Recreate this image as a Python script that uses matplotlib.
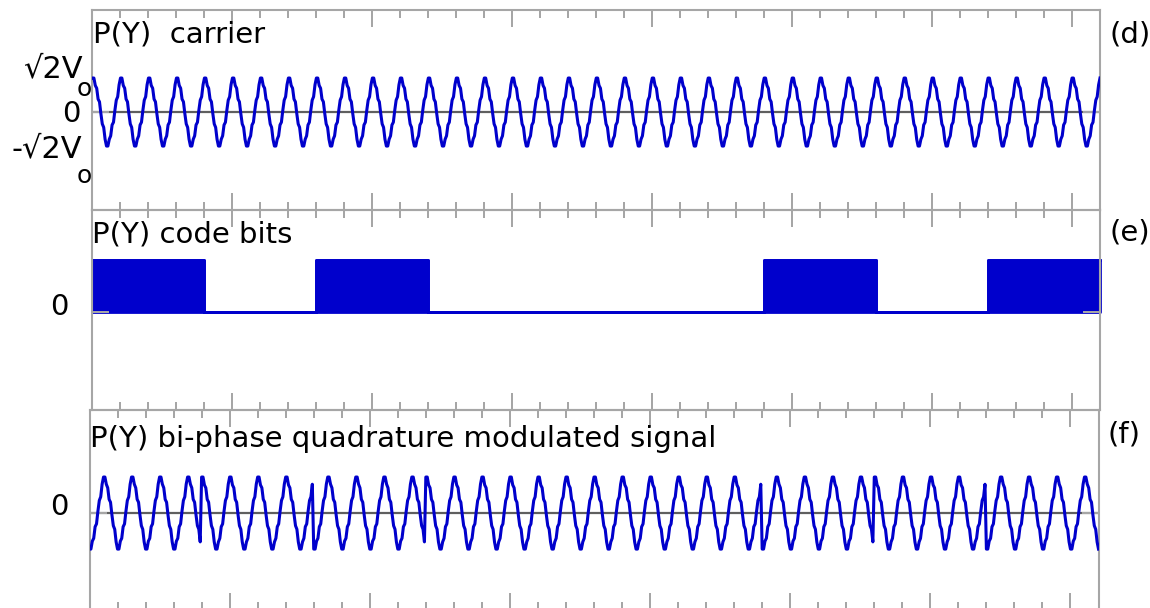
import numpy as np
import matplotlib
matplotlib.use('Agg')
import matplotlib.pyplot as plt
from matplotlib.ticker import MultipleLocator

plt.rcParams['font.family'] = ['DejaVu Sans']

#%% data
# one carrier period (20 samples, starting at the crest)
carrier_cycle = [1.00, 1.00, 0.78, 0.70, 0.38, 0.30, -0.05, -0.35, -0.45, -0.80,
                 -1.00, -1.00, -0.80, -0.70, -0.38, -0.30, 0.05, 0.35, 0.45, 0.80]
n_periods = 36          # carrier periods shown
period = 0.2            # one minor division per period
code_bits = [1, 0, 1, 0, 0, 0, 1, 0, 1]
periods_per_bit = 4

titles = ['P(Y)  carrier', 'P(Y) code bits', 'P(Y) bi-phase quadrature modulated signal']
tags = ['(d)', '(e)', '(f)']

#%% build the traces
spp = len(carrier_cycle)
n = n_periods * spp + 1
t = np.arange(n) * period / spp
carrier = np.array(carrier_cycle * n_periods + [carrier_cycle[0]])
bit_idx = np.minimum(np.arange(n) // (spp * periods_per_bit), len(code_bits) - 1)
signal = carrier * (1 - 2 * np.array(code_bits)[bit_idx])

bit_len = periods_per_bit * period
edges = np.arange(len(code_bits) + 1) * bit_len
levels = code_bits + [code_bits[-1]]
x_end = n_periods * period

#%% figure
W, H = 1150, 608
fig = plt.figure(figsize=(W / 100, H / 100), dpi=100)

def make_ax(left, right, top, bottom):
    return fig.add_axes([left / W, (H - bottom) / H, (right - left) / W, (bottom - top) / H])

ax_d = make_ax(92.5, 1100, 10, 210)
ax_e = make_ax(92, 1100, 210, 410)
ax_f = make_ax(89.5, 1098.5, 410, 610)

blue = '#0000cc'
grid_grey = '#a6a6a6'

for ax in (ax_d, ax_e, ax_f):
    ax.set_xlim(0, x_end)
    ax.xaxis.set_major_locator(MultipleLocator(1))
    ax.xaxis.set_minor_locator(MultipleLocator(period))
    ax.set_yticks([0])
    ax.set_axisbelow(False)
    ax.tick_params(axis='both', which='both', direction='in', top=True, bottom=True,
                   left=True, right=True, color=grid_grey, width=1.44,
                   labelbottom=False, labelleft=False)
    ax.tick_params(which='major', length=12.2)
    ax.tick_params(which='minor', length=5.8)
    ax.tick_params(axis='y', which='minor', left=False, right=False)
    for s in ax.spines.values():
        s.set_color(grid_grey)
        s.set_linewidth(1.5)
    ax.patch.set_alpha(0)

ax_d.set_ylim(-2.88, 3.0)
ax_e.set_ylim(-1.885, 1.96)
ax_f.set_ylim(-2.69, 2.86)

# (d) carrier
ax_d.axhline(0, color='#5f5f5f', lw=1.6, zorder=2)
ax_d.plot(t, carrier, color=blue, lw=2.2, zorder=3)

# (e) code bits
ax_e.fill_between(edges, 0, levels, step='post', facecolor=blue, edgecolor=blue,
                  lw=2, zorder=1, clip_on=False)
ax_e.plot(edges, levels, drawstyle='steps-post', color=blue, lw=2, zorder=1, clip_on=False)

# (f) modulated signal
ax_f.axhline(0, color='#5f5f5f', lw=1.6, zorder=2)
ax_f.plot(t, signal, color=blue, lw=2.2, zorder=3)

#%% text
fs = 21

def label(ax, s, dx, dy, ha='right', size=fs):
    ax.annotate(s, xy=(0, 0), xycoords=('axes fraction', 'data'), xytext=(dx, dy),
                textcoords='offset pixels', ha=ha, va='baseline', fontsize=size)

label(ax_d, '√2V', -10, 35, size=22)
label(ax_d, 'o', -16, 16, ha='left', size=18)
label(ax_d, '0', -11.5, -10)
label(ax_d, '-√2V', -10, -45, size=22)
label(ax_d, 'o', -16, -71, ha='left', size=18)
label(ax_e, '0', -23, -3)
label(ax_f, '0', -21.5, -2)

for ax, title, tag, dy, tdy in zip((ax_d, ax_e, ax_f), titles, tags, (-33, -33, -37), (-33, -30, -33)):
    ax.annotate(title, xy=(0, 1), xycoords='axes fraction', xytext=(0.5, dy),
                textcoords='offset pixels', ha='left', va='baseline', fontsize=fs)
    ax.annotate(tag, xy=(1, 1), xycoords='axes fraction', xytext=(9, tdy),
                textcoords='offset pixels', ha='left', va='baseline', fontsize=fs)

fig.savefig('out.png', dpi=100)
